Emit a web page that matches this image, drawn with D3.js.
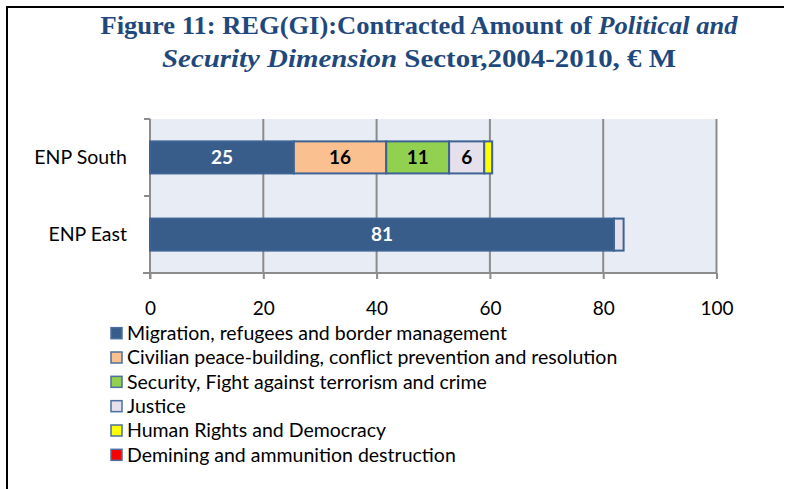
<!DOCTYPE html>
<html><head><meta charset="utf-8">
<script src="https://cdn.jsdelivr.net/npm/d3@7"></script>
<style>body{margin:0;background:#fff}svg{display:block}</style>
</head><body>
<svg id="c" width="791" height="489"></svg>
<script>
const categories = ["ENP South", "ENP East"];
const seriesNames = [
  "Migration, refugees and border management",
  "Civilian peace-building, conflict prevention and resolution",
  "Security, Fight against terrorism and crime",
  "Justice",
  "Human Rights and Democracy",
  "Demining and ammunition destruction"
];
const seriesColors = ["#385d8a", "#fac090", "#92d050", "#e6e0ec", "#ffff00", "#ff0000"];
const labelColors = ["#ffffff", "#000000", "#000000", "#000000", "#000000", "#ffffff"];
// values per series: [ENP South, ENP East]
const migration = [25.4, 81.9];
const civilian = [16.3, 0];
const security = [11.1, 0];
const justice = [6.2, 1.7];
const humanRights = [1.4, 0];
const demining = [0, 0];
const xTicks = [0, 20, 40, 60, 80, 100];

const series = [migration, civilian, security, justice, humanRights, demining];
const svg = d3.select("#c");
const FONT = "Lato, 'Open Sans', sans-serif";

// frame
svg.append("path").attr("d", "M7,489 V7 H784").attr("fill", "none").attr("stroke", "#000").attr("stroke-width", 2);

// title
const title = svg.append("g").attr("font-family", "'Liberation Serif', serif").attr("font-weight", "bold")
  .attr("fill", "#1f497d").attr("font-size", 25);
const t1 = title.append("text").attr("x", 419).attr("y", 34).attr("text-anchor", "middle")
  .attr("textLength", 637).attr("lengthAdjust", "spacingAndGlyphs");
t1.append("tspan").text("Figure 11:  REG(GI):Contracted Amount of ");
t1.append("tspan").attr("font-style", "italic").text("Political and");
const t2 = title.append("text").attr("x", 419).attr("y", 67).attr("text-anchor", "middle")
  .attr("textLength", 514).attr("lengthAdjust", "spacingAndGlyphs");
t2.append("tspan").attr("font-style", "italic").text("Security Dimension");
t2.append("tspan").text(" Sector,2004-2010, € M");

// plot
const x = d3.scaleLinear().domain([0, 100]).range([150, 716.5]);
const y = d3.scaleBand().domain(categories).range([119, 273]).paddingInner(0.585).paddingOuter(0.29);
const band = d3.scaleBand().domain(categories).range([119, 273]);

svg.append("rect").attr("x", x(0)).attr("y", 119).attr("width", x(100) - x(0)).attr("height", 154).attr("fill", "#e8ecf4");

// grid
svg.append("g").selectAll("line").data(xTicks.slice(1)).join("line")
  .attr("x1", d => x(d)).attr("x2", d => x(d)).attr("y1", 119).attr("y2", 273)
  .attr("stroke", "#8c8c8c").attr("stroke-width", 2);

// axes
const xa = svg.append("g").attr("transform", "translate(0,273)")
  .call(d3.axisBottom(x).tickValues(xTicks).tickSize(6).tickPadding(23).tickFormat(d3.format("d")));
xa.select(".domain").attr("stroke", "#8c8c8c").attr("stroke-width", 2).attr("d", "M143,0H716.5");
xa.selectAll(".tick line").attr("stroke", "#8c8c8c").attr("stroke-width", 2);
xa.selectAll(".tick text").attr("font-family", FONT).attr("font-size", 19).attr("fill", "#000");

const ya = svg.append("g").attr("transform", "translate(150,0)")
  .call(d3.axisLeft(band).tickSize(0).tickPadding(23));
ya.select(".domain").attr("stroke", "#8c8c8c").attr("stroke-width", 2).attr("d", "M0,119V279");
ya.selectAll(".tick text").attr("font-family", FONT).attr("font-size", 19.5).attr("fill", "#000");
// category boundary ticks
ya.append("g").selectAll("line").data([119, (119 + 273) / 2]).join("line")
  .attr("x1", -6).attr("x2", 0).attr("y1", d => d).attr("y2", d => d)
  .attr("stroke", "#8c8c8c").attr("stroke-width", 2);

// stacked bars
const rows = categories.map((c, i) => {
  const o = { cat: c };
  seriesNames.forEach((s, j) => o[s] = series[j][i]);
  return o;
});
const stacked = d3.stack().keys(seriesNames)(rows);
const bars = svg.append("g");
stacked.forEach((layer, j) => {
  const g = bars.append("g");
  g.selectAll("rect").data(layer.filter(d => d[1] - d[0] > 0)).join("rect")
    .attr("x", d => x(d[0])).attr("width", d => x(d[1]) - x(d[0]))
    .attr("y", d => y(d.data.cat)).attr("height", y.bandwidth())
    .attr("fill", seriesColors[j]).attr("stroke", "#3d6394").attr("stroke-width", 2);
  g.selectAll("text").data(layer.filter(d => d[1] - d[0] >= 3)).join("text")
    .attr("x", d => (x(d[0]) + x(d[1])) / 2).attr("y", d => y(d.data.cat) + y.bandwidth() / 2)
    .attr("dy", "0.35em").attr("text-anchor", "middle")
    .attr("font-family", FONT).attr("font-weight", "bold").attr("font-size", 19)
    .attr("fill", labelColors[j]).text(d => Math.floor(d[1] - d[0]));
});

// legend
const lg = svg.append("g");
const ly = d3.scaleBand().domain(seriesNames).range([321, 467]);
seriesNames.forEach((s, j) => {
  const cy = ly(s) + ly.bandwidth() / 2;
  lg.append("rect").attr("x", 111).attr("y", cy - 5.5).attr("width", 11).attr("height", 11)
    .attr("fill", seriesColors[j]).attr("stroke", "#4a6fa0").attr("stroke-width", 1.5);
  lg.append("text").attr("x", 127).attr("y", cy).attr("dy", "0.35em")
    .attr("font-family", FONT).attr("font-size", 19.5).attr("fill", "#000").text(s);
});
</script>
</body></html>
